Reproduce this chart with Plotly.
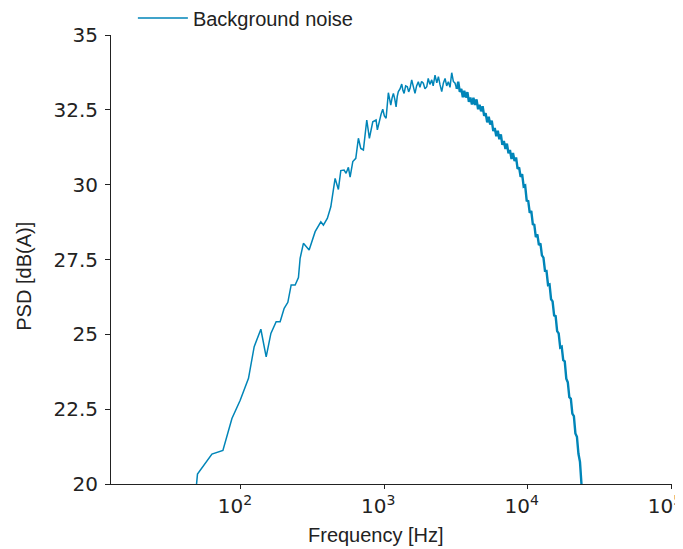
"""Background noise PSD (A-weighted) over frequency, log-x."""

import math

import plotly.graph_objects as go

LINE_COLOR = "#0085B8"
TEXT_COLOR = "#222222"

# low band: 49 Hz .. 900 Hz
freq_low = [49.0, 49.8, 62.8, 74.9, 86.6, 98.9, 113.0, 123.8, 137.8, 150.1,
            161.9, 176.2, 187.8, 200.4, 212.6, 224.2, 239.0, 252.0, 258.9, 273.0,
            299.2, 329.5, 361.0, 376.3, 401.3, 423.8, 454.1, 478.7, 497.6, 524.7,
            541.8, 562.1, 577.7, 603.3, 633.0, 660.0, 686.0, 715.3, 755.1, 787.4,
            831.6, 876.8, 895.1]
psd_low = [19.97, 20.33, 21.00, 21.12, 22.19, 22.80, 23.53, 24.59, 25.17, 24.25,
           25.03, 25.42, 25.42, 25.87, 26.07, 26.65, 26.65, 26.90, 27.54, 28.04,
           27.82, 28.43, 28.76, 28.65, 28.88, 29.26, 30.21, 29.84, 30.47, 30.49,
           30.38, 30.58, 30.25, 30.77, 30.88, 31.55, 31.21, 31.16, 32.16, 31.55,
           32.10, 32.16, 31.83]

# plateau: 920 Hz .. 3.2 kHz
freq_mid = [920, 950, 976, 1002, 1030, 1049, 1068, 1091, 1110, 1134,
            1158, 1185, 1209, 1232, 1254, 1288, 1324, 1349, 1375, 1410,
            1449, 1480, 1513, 1554, 1596, 1638, 1681, 1728, 1774, 1821,
            1873, 1923, 1979, 2026, 2082, 2144, 2194, 2260, 2325, 2386,
            2446, 2517, 2586, 2655, 2726, 2799, 2875, 2955, 3033, 3117, 3200]
psd_mid = [32.09, 32.35, 32.52, 32.30, 32.22, 32.70, 33.07, 32.85, 32.66, 32.90,
           33.05, 32.85, 32.60, 32.95, 33.11, 33.20, 33.36, 33.15, 33.05, 33.30,
           33.27, 33.10, 33.22, 33.50, 33.25, 33.05, 33.30, 33.44, 33.25, 33.45,
           33.39, 33.20, 33.27, 33.55, 33.35, 33.50, 33.30, 33.66, 33.40, 33.61,
           33.35, 33.11, 33.40, 33.55, 33.30, 33.44, 33.25, 33.74, 33.45, 33.39, 33.20]

# roll-off: 3.3 kHz .. 24 kHz (dense noise, drawn a bit heavier)
freq_high = [3281, 3365, 3448, 3532, 3615, 3708, 3801, 3893, 3986, 4088,
             4189, 4291, 4402, 4513, 4624, 4735, 4855, 4975, 5095, 5225,
             5354, 5483, 5622, 5760, 5898, 6045, 6193, 6350, 6506, 6663,
             6828, 7004, 7170, 7353, 7528, 7721, 7905, 8108, 8309, 8512,
             8723, 8934, 9155, 9384, 9613, 9852, 10099, 10347, 10604, 10869,
             11135, 11410, 11693, 11987, 12280, 12581, 12893, 13213, 13541, 13880,
             14217, 14574, 14931, 15304, 15679, 16063, 16463, 16875, 17285, 17713,
             18151, 18607, 19062, 19536, 20019, 20509, 21020, 21539, 22074, 22621,
             23183, 23756]
psd_high = [33.44, 33.10, 33.20, 32.92, 33.14, 32.91, 33.09, 32.77, 32.91, 32.68,
            32.90, 32.66, 32.85, 32.52, 32.67, 32.45, 32.62, 32.30, 32.39, 32.08,
            32.27, 32.01, 32.14, 31.79, 31.89, 31.62, 31.80, 31.52, 31.68, 31.33,
            31.46, 31.19, 31.37, 31.05, 31.16, 30.86, 31.06, 30.79, 30.91, 30.53,
            30.58, 30.26, 30.35, 29.94, 29.97, 29.47, 29.45, 29.06, 29.12, 28.68,
            28.66, 28.25, 28.34, 27.98, 28.04, 27.64, 27.56, 27.12, 27.12, 26.65,
            26.67, 26.17, 26.10, 25.63, 25.61, 25.11, 25.03, 24.56, 24.59, 24.14,
            24.10, 23.52, 23.40, 22.90, 22.85, 22.35, 22.27, 21.69, 21.58, 21.01,
            20.74, 19.98]

x_tickvals = [1e2, 1e3, 1e4, 1e5]
x_ticktext = ["10<sup>2</sup>", "10<sup>3</sup>", "10<sup>4</sup>", "10<sup>5</sup>"]
y_tickvals = [20, 22.5, 25, 27.5, 30, 32.5, 35]
y_ticktext = ["20", "22.5", "25", "27.5", "30", "32.5", "35"]

fig = go.Figure()
fig.add_trace(
    go.Scatter(
        x=freq_low + freq_mid,
        y=psd_low + psd_mid,
        mode="lines",
        line=dict(color=LINE_COLOR, width=1.5),
        name="Background noise",
        legendgroup="bg",
    )
)
fig.add_trace(
    go.Scatter(
        x=freq_mid[-1:] + freq_high,
        y=psd_mid[-1:] + psd_high,
        mode="lines",
        line=dict(color=LINE_COLOR, width=2.4),
        name="Background noise",
        legendgroup="bg",
        showlegend=False,
    )
)

# x ticks cross the axis line: outside ticks from the axis, inside part as shapes
for tv in x_tickvals:
    fig.add_shape(
        type="line", xref="x", yref="paper",
        x0=math.log10(tv), x1=math.log10(tv), y0=0, y1=0.008,
        line=dict(color=TEXT_COLOR, width=1),
    )

tick_font = dict(family="DejaVu Sans", size=20, color=TEXT_COLOR)
text_font = dict(family="Liberation Sans", size=20, color=TEXT_COLOR)

fig.update_xaxes(
    type="log",
    range=[1.094, 5.007],
    tickvals=x_tickvals,
    ticktext=x_ticktext,
    ticks="outside",
    ticklen=4,
    tickcolor=TEXT_COLOR,
    showline=True,
    linecolor=TEXT_COLOR,
    linewidth=1,
    showgrid=False,
    zeroline=False,
    tickfont=tick_font,
    ticklabeloverflow="allow",
    ticklabelshift=-6,
)
fig.update_yaxes(
    range=[20, 35],
    tickvals=y_tickvals,
    ticktext=y_ticktext,
    ticks="outside",
    ticklen=5,
    tickcolor=TEXT_COLOR,
    showline=True,
    linecolor=TEXT_COLOR,
    linewidth=1,
    showgrid=False,
    zeroline=False,
    tickfont=tick_font,
    ticklabelstandoff=3,
)

fig.add_annotation(
    text="PSD [dB(A)]", xref="paper", yref="paper",
    x=-0.154, y=0.463, textangle=-90, showarrow=False,
    xanchor="center", yanchor="middle", font=text_font,
)
fig.add_annotation(
    text="Frequency [Hz]", xref="paper", yref="paper",
    x=0.473, y=-0.114, showarrow=False,
    xanchor="center", yanchor="middle", font=text_font,
)

# the page body adds an 8 px margin, so the figure is 8 px smaller and
# the top/left margins 8 px tighter
fig.update_layout(
    width=675,
    height=541,
    margin=dict(l=103, r=11, t=27, b=65, autoexpand=False),
    paper_bgcolor="white",
    plot_bgcolor="white",
    showlegend=True,
    legend=dict(
        x=0.039, y=1.038, xanchor="left", yanchor="middle",
        font=text_font, bgcolor="rgba(0,0,0,0)",
        itemwidth=50,
    ),
)

fig.write_html("out.html")
